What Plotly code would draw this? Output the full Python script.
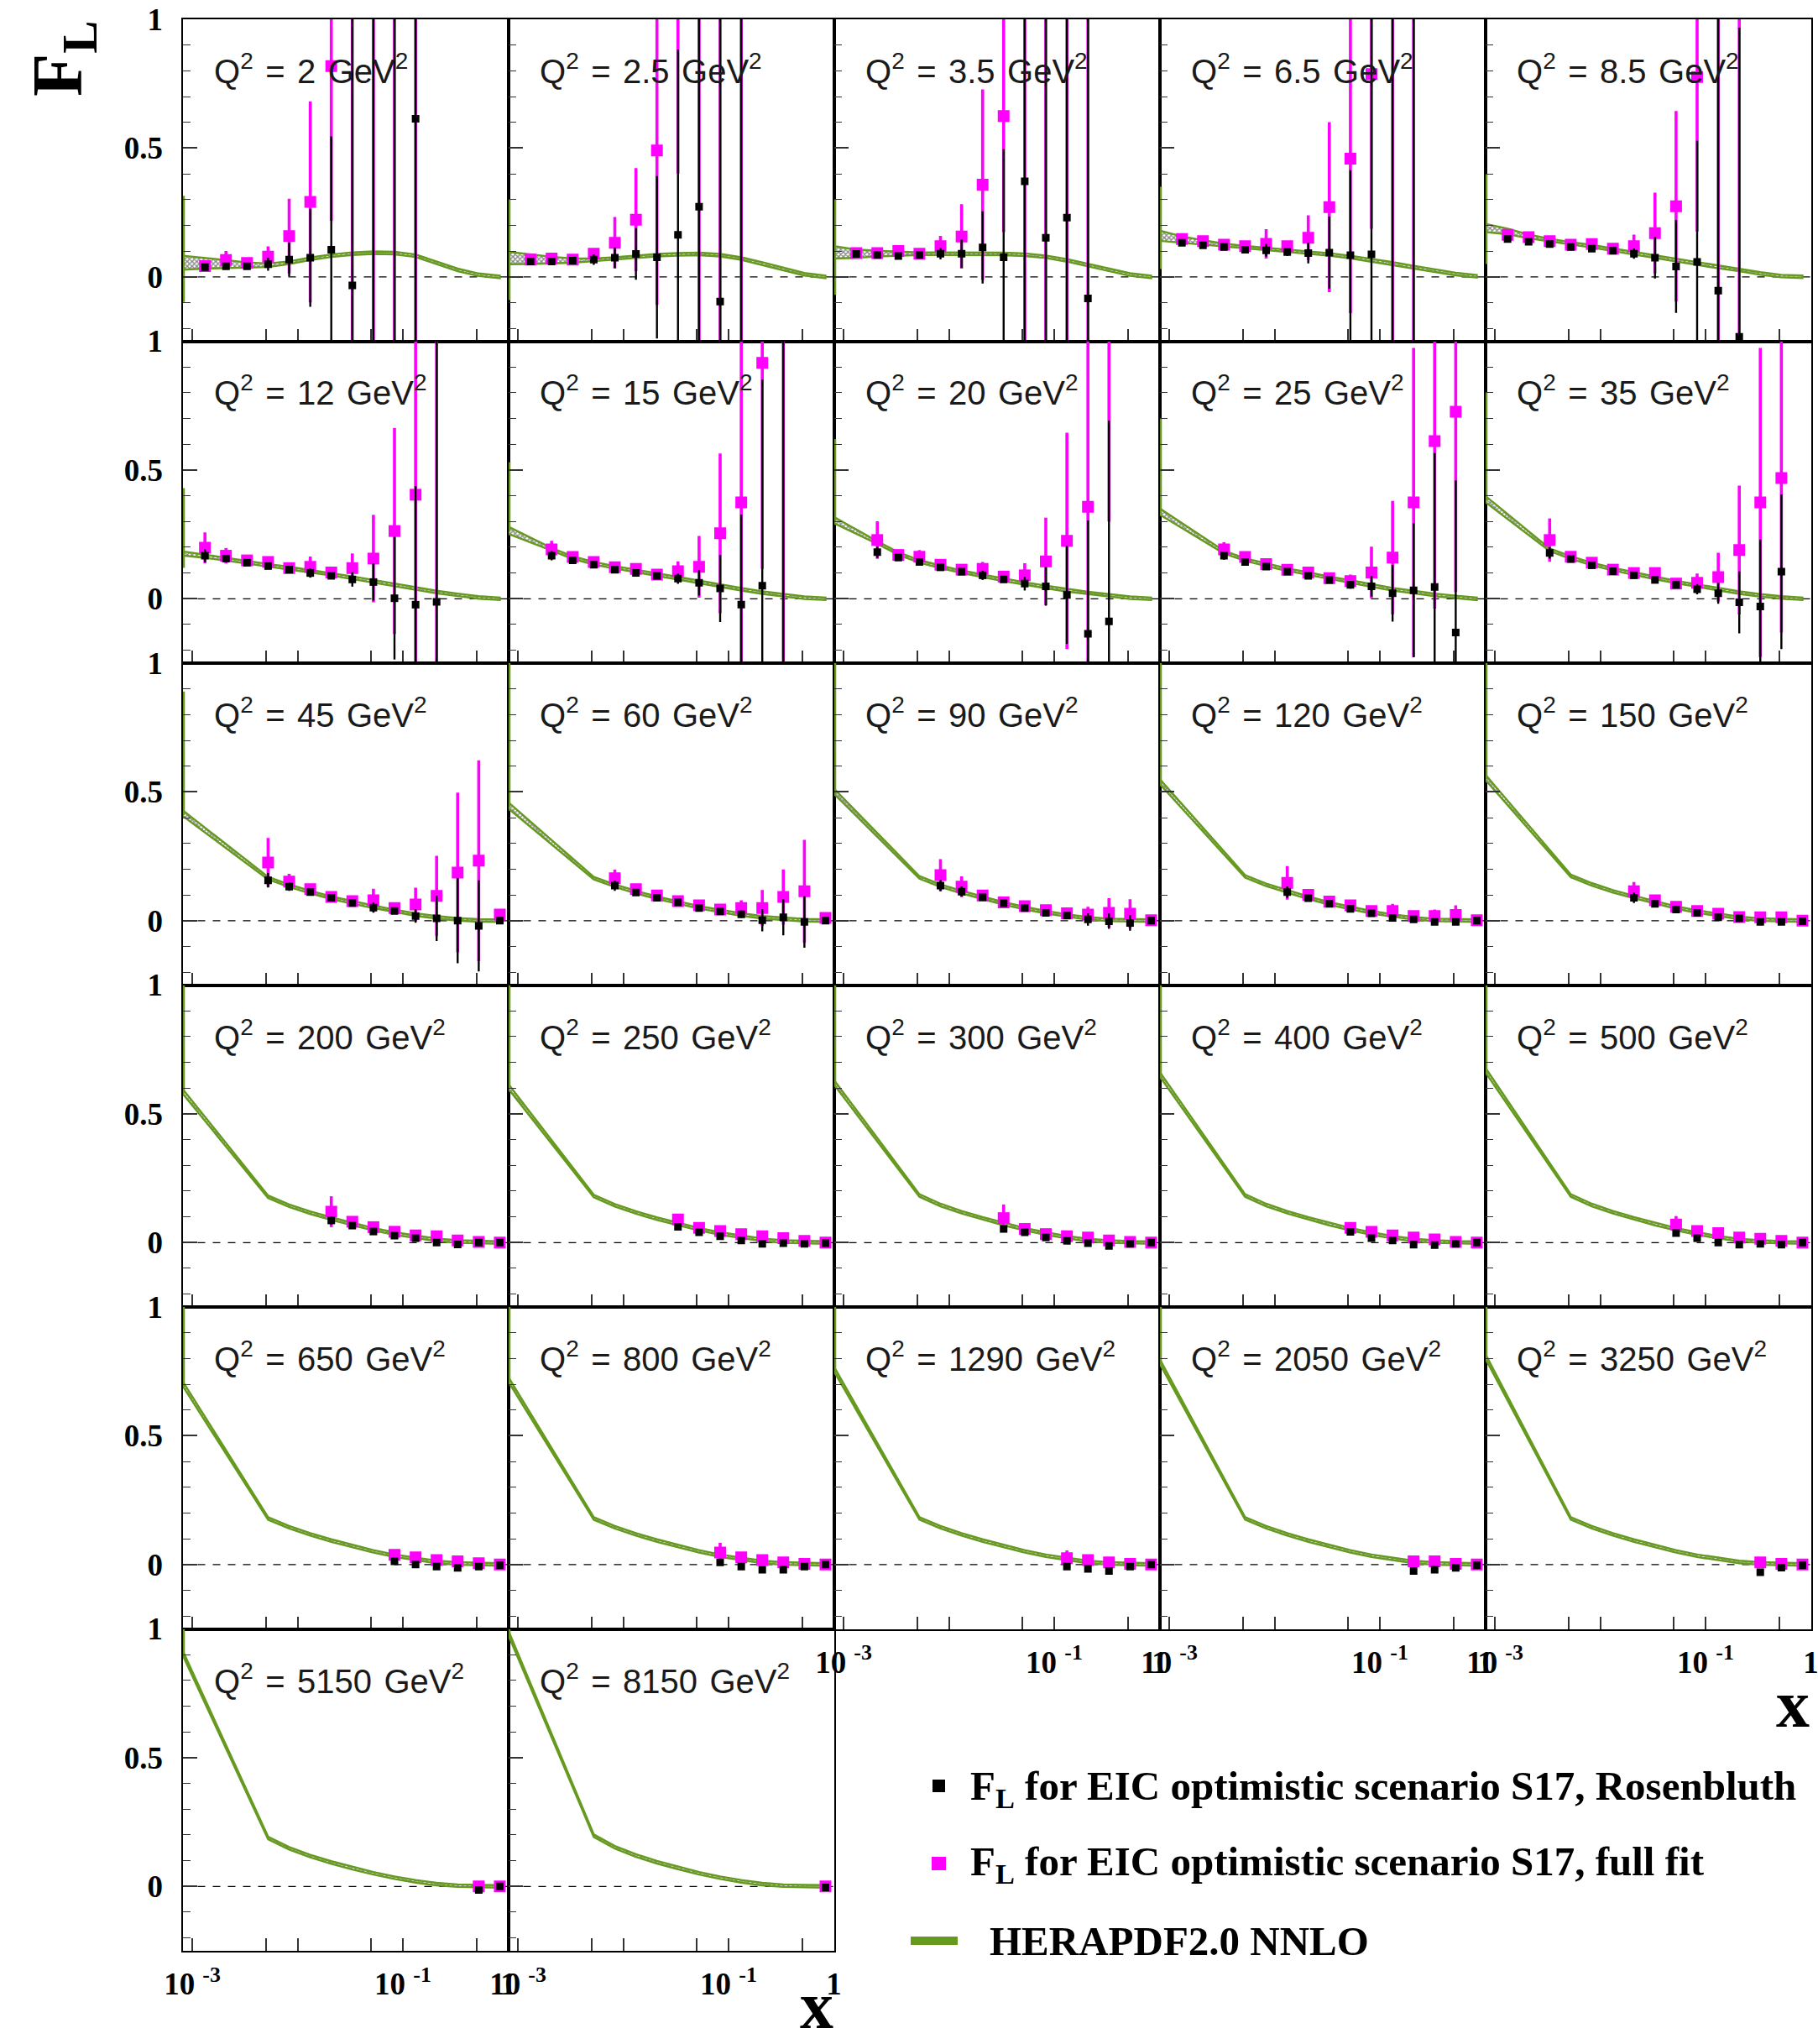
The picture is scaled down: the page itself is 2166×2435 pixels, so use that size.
import plotly.graph_objects as go

# ------------------------------------------------------------------ data
q2_labels = ["2", "2.5", "3.5", "6.5", "8.5", "12", "15", "20", "25", "35",
             "45", "60", "90", "120", "150", "200", "250", "300", "400", "500",
             "650", "800", "1290", "2050", "3250", "5150", "8150"]

# x bins (common grid)
x_grid = [0.00132, 0.00209, 0.00331, 0.00525, 0.00832, 0.0132, 0.0209, 0.0331,
          0.0525, 0.0832, 0.132, 0.209, 0.331, 0.525, 0.832]

# index of first x bin that carries a point, per panel
first_bin = [0, 0, 0, 0, 0, 0, 1, 1, 2, 2, 3, 4, 4, 5, 6, 6, 7, 7, 8, 8, 9, 9, 10, 11, 12, 13, 14]

# F_L, Rosenbluth separation (black)
rosen_fl = [
    [0.038, 0.041, 0.041, 0.049, 0.067, 0.074, 0.105, -0.033, 1.4, -0.6, 0.614],
    [0.060, 0.060, 0.063, 0.067, 0.074, 0.089, 0.076, 0.163, 0.272, -0.096, -0.5],
    [0.089, 0.085, 0.081, 0.085, 0.090, 0.090, 0.114, 0.076, 0.371, 0.152, 0.230, -0.084],
    [0.132, 0.122, 0.116, 0.105, 0.103, 0.096, 0.092, 0.094, 0.084, 0.087, 1.4, -0.5],
    [0.147, 0.136, 0.127, 0.116, 0.109, 0.101, 0.090, 0.074, 0.040, 0.058, -0.054, -0.233],
    [0.167, 0.156, 0.140, 0.127, 0.113, 0.100, 0.089, 0.075, 0.065, 0.002, -0.023, -0.012],
    [0.167, 0.149, 0.132, 0.113, 0.100, 0.089, 0.078, 0.062, 0.040, -0.023, 0.051, 1.4],
    [0.181, 0.160, 0.143, 0.122, 0.105, 0.091, 0.075, 0.059, 0.048, 0.015, -0.136, -0.088],
    [0.167, 0.143, 0.125, 0.105, 0.089, 0.073, 0.054, 0.048, 0.021, 0.033, 0.046, -0.131],
    [0.178, 0.154, 0.130, 0.107, 0.091, 0.073, 0.054, 0.037, 0.021, -0.014, -0.030, 0.105],
    [0.157, 0.132, 0.111, 0.089, 0.069, 0.051, 0.038, 0.018, 0.009, 0.000, -0.020, 0.000],
    [0.136, 0.109, 0.089, 0.071, 0.049, 0.036, 0.025, 0.002, 0.013, -0.005, 0.000],
    [0.136, 0.113, 0.091, 0.068, 0.049, 0.030, 0.020, 0.005, -0.002, -0.009, 0.000],
    [0.111, 0.087, 0.065, 0.046, 0.029, 0.011, 0.005, -0.005, -0.005, 0.000],
    [0.089, 0.065, 0.043, 0.030, 0.013, 0.009, -0.005, -0.005, -0.002],
    [0.086, 0.066, 0.043, 0.027, 0.017, 0.000, -0.007, 0.000, 0.000],
    [0.061, 0.040, 0.025, 0.008, -0.005, -0.002, -0.005, -0.002],
    [0.053, 0.040, 0.020, 0.007, -0.002, -0.013, -0.005, 0.000],
    [0.042, 0.017, 0.008, -0.008, -0.010, -0.005, 0.000],
    [0.037, 0.017, 0.000, -0.008, -0.005, -0.008, 0.000],
    [0.012, 0.000, -0.008, -0.013, -0.008, -0.003],
    [0.008, -0.008, -0.020, -0.020, -0.008, 0.000],
    [-0.008, -0.017, -0.025, -0.008, 0.000],
    [-0.025, -0.020, -0.013, -0.003],
    [-0.030, -0.012, -0.003],
    [-0.014, 0.000],
    [-0.004],
]
rosen_err = [
    [0.012, 0.012, 0.012, 0.025, 0.065, 0.19, 0.44, 1.3, 2.0, 2.0, 1.3],
    [0.01, 0.01, 0.01, 0.02, 0.04, 0.10, 0.315, 0.72, 1.2, 1.2, 2.0],
    [0.012, 0.012, 0.012, 0.012, 0.022, 0.055, 0.14, 0.42, 1.0, 1.2, 1.2, 1.2],
    [0.01, 0.01, 0.01, 0.01, 0.025, 0.015, 0.04, 0.14, 0.33, 1.2, 2.0, 2.0],
    [0.012, 0.012, 0.012, 0.012, 0.012, 0.012, 0.02, 0.08, 0.18, 0.47, 1.2, 1.2],
    [0.025, 0.012, 0.01, 0.01, 0.01, 0.018, 0.01, 0.028, 0.072, 0.238, 0.46, 1.2],
    [0.018, 0.012, 0.01, 0.01, 0.01, 0.01, 0.02, 0.05, 0.13, 0.35, 0.80, 2.0],
    [0.022, 0.012, 0.01, 0.01, 0.01, 0.018, 0.01, 0.027, 0.075, 0.19, 0.44, 0.78],
    [0.015, 0.01, 0.01, 0.01, 0.01, 0.01, 0.015, 0.04, 0.11, 0.26, 0.52, 0.59],
    [0.022, 0.01, 0.01, 0.01, 0.01, 0.012, 0.01, 0.02, 0.04, 0.12, 0.26, 0.30],
    [0.028, 0.016, 0.01, 0.01, 0.01, 0.02, 0.01, 0.026, 0.088, 0.165, 0.177, 0.012],
    [0.02, 0.01, 0.01, 0.01, 0.01, 0.01, 0.014, 0.043, 0.07, 0.10, 0.01],
    [0.022, 0.02, 0.01, 0.01, 0.01, 0.01, 0.01, 0.024, 0.03, 0.03, 0.01],
    [0.022, 0.01, 0.01, 0.01, 0.01, 0.012, 0.012, 0.012, 0.012, 0.01],
    [0.02, 0.012, 0.01, 0.01, 0.01, 0.01, 0.01, 0.01, 0.01],
    [0.015, 0.012, 0.01, 0.01, 0.01, 0.012, 0.012, 0.01, 0.01],
    [0.012, 0.01, 0.01, 0.01, 0.012, 0.01, 0.01, 0.01],
    [0.012, 0.01, 0.01, 0.01, 0.012, 0.012, 0.01, 0.01],
    [0.012, 0.01, 0.01, 0.01, 0.01, 0.01, 0.01],
    [0.012, 0.01, 0.01, 0.01, 0.01, 0.01, 0.01],
    [0.01, 0.01, 0.01, 0.01, 0.01, 0.01],
    [0.01, 0.01, 0.012, 0.012, 0.01, 0.01],
    [0.01, 0.01, 0.012, 0.01, 0.01],
    [0.012, 0.012, 0.01, 0.01],
    [0.012, 0.01, 0.01],
    [0.012, 0.01],
    [0.01],
]

# F_L, full fit (magenta)
full_fl = [
    [0.042, 0.065, 0.054, 0.078, 0.158, 0.291, 0.818, 1.5, 1.5, 1.5, 1.5],
    [0.067, 0.071, 0.067, 0.090, 0.132, 0.222, 0.491, 1.3, 1.5, 1.5, 1.5],
    [0.092, 0.092, 0.100, 0.090, 0.119, 0.157, 0.358, 0.624, 1.5, 1.5, 1.5, 1.5],
    [0.147, 0.139, 0.125, 0.119, 0.128, 0.119, 0.152, 0.271, 0.459, 0.787, 1.5, 1.5],
    [0.163, 0.154, 0.139, 0.125, 0.127, 0.109, 0.119, 0.170, 0.274, 0.776, 1.5, 1.5],
    [0.198, 0.167, 0.149, 0.143, 0.119, 0.124, 0.102, 0.119, 0.156, 0.263, 0.404, 1.5],
    [0.192, 0.162, 0.143, 0.122, 0.116, 0.094, 0.107, 0.124, 0.254, 0.374, 0.916, 1.5],
    [0.228, 0.170, 0.163, 0.132, 0.113, 0.116, 0.086, 0.091, 0.145, 0.225, 0.357, 1.2],
    [0.192, 0.162, 0.135, 0.113, 0.102, 0.080, 0.069, 0.102, 0.160, 0.374, 0.612, 0.726],
    [0.228, 0.163, 0.140, 0.113, 0.100, 0.100, 0.059, 0.062, 0.084, 0.189, 0.374, 0.469],
    [0.226, 0.152, 0.122, 0.092, 0.076, 0.079, 0.049, 0.063, 0.096, 0.187, 0.233, 0.024],
    [0.165, 0.122, 0.098, 0.076, 0.060, 0.043, 0.049, 0.049, 0.092, 0.114, 0.011],
    [0.177, 0.132, 0.098, 0.071, 0.056, 0.041, 0.029, 0.024, 0.030, 0.027, 0.002],
    [0.147, 0.100, 0.074, 0.060, 0.038, 0.038, 0.018, 0.018, 0.022, 0.002],
    [0.114, 0.079, 0.054, 0.038, 0.027, 0.014, 0.013, 0.013, 0.000],
    [0.120, 0.081, 0.060, 0.042, 0.028, 0.025, 0.008, 0.003, 0.000],
    [0.090, 0.057, 0.045, 0.033, 0.025, 0.017, 0.007, 0.000],
    [0.095, 0.053, 0.033, 0.025, 0.020, 0.008, 0.003, 0.000],
    [0.057, 0.042, 0.028, 0.020, 0.012, 0.003, 0.000],
    [0.070, 0.045, 0.037, 0.020, 0.015, 0.007, 0.000],
    [0.038, 0.028, 0.017, 0.012, 0.005, 0.000],
    [0.047, 0.028, 0.017, 0.008, 0.003, 0.000],
    [0.025, 0.017, 0.008, 0.003, 0.000],
    [0.012, 0.012, 0.003, 0.000],
    [0.008, 0.003, 0.000],
    [0.000, 0.000],
    [0.000],
]
full_err = [
    [0.015, 0.035, 0.02, 0.04, 0.145, 0.39, 0.6, 2.0, 2.0, 2.0, 2.0],
    [0.012, 0.015, 0.012, 0.02, 0.10, 0.20, 0.6, 0.9, 2.0, 2.0, 2.0],
    [0.015, 0.015, 0.02, 0.015, 0.04, 0.125, 0.37, 0.45, 2.0, 2.0, 2.0, 2.0],
    [0.015, 0.015, 0.015, 0.015, 0.057, 0.02, 0.087, 0.33, 0.6, 0.6, 2.0, 2.0],
    [0.02, 0.015, 0.015, 0.015, 0.015, 0.015, 0.045, 0.157, 0.37, 0.6, 2.0, 2.0],
    [0.06, 0.03, 0.015, 0.015, 0.012, 0.04, 0.012, 0.057, 0.17, 0.40, 0.65, 2.0],
    [0.033, 0.015, 0.012, 0.012, 0.012, 0.01, 0.038, 0.12, 0.31, 0.65, 0.8, 2.0],
    [0.073, 0.015, 0.026, 0.015, 0.012, 0.027, 0.01, 0.047, 0.17, 0.42, 0.7, 0.9],
    [0.027, 0.015, 0.012, 0.01, 0.01, 0.01, 0.025, 0.1, 0.22, 0.6, 0.65, 0.7],
    [0.084, 0.015, 0.01, 0.012, 0.012, 0.016, 0.01, 0.036, 0.095, 0.25, 0.6, 0.6],
    [0.095, 0.03, 0.015, 0.012, 0.012, 0.045, 0.01, 0.065, 0.156, 0.31, 0.39, 0.02],
    [0.033, 0.012, 0.012, 0.012, 0.012, 0.012, 0.03, 0.07, 0.107, 0.2, 0.012],
    [0.062, 0.04, 0.012, 0.012, 0.012, 0.012, 0.012, 0.03, 0.057, 0.056, 0.015],
    [0.065, 0.012, 0.012, 0.012, 0.012, 0.027, 0.012, 0.025, 0.038, 0.015],
    [0.036, 0.015, 0.012, 0.012, 0.012, 0.012, 0.012, 0.012, 0.015],
    [0.06, 0.012, 0.012, 0.012, 0.012, 0.02, 0.012, 0.012, 0.015],
    [0.02, 0.012, 0.012, 0.012, 0.012, 0.012, 0.012, 0.015],
    [0.053, 0.012, 0.012, 0.012, 0.012, 0.012, 0.012, 0.015],
    [0.02, 0.012, 0.012, 0.012, 0.012, 0.012, 0.015],
    [0.033, 0.012, 0.012, 0.012, 0.012, 0.012, 0.015],
    [0.015, 0.012, 0.012, 0.012, 0.012, 0.015],
    [0.037, 0.012, 0.012, 0.012, 0.012, 0.015],
    [0.03, 0.012, 0.012, 0.012, 0.015],
    [0.02, 0.012, 0.012, 0.015],
    [0.015, 0.012, 0.015],
    [0.015, 0.015],
    [0.015],
]

# HERAPDF2.0 NNLO prediction: value at the left edge of the x range, then on the x grid
hera_edge = [0.055, 0.073, 0.095, 0.160, 0.190, 0.176, 0.266, 0.306, 0.339, 0.388,
             0.418, 0.448, 0.503, 0.541, 0.558, 0.588, 0.607, 0.623, 0.655, 0.671,
             0.703, 0.720, 0.760, 0.790, 0.810, 0.908, 0.986]
hera_fl = [
    [0.053, 0.050, 0.046, 0.045, 0.055, 0.070, 0.082, 0.090, 0.094, 0.092, 0.082, 0.055, 0.027, 0.008, 0.0],
    [0.068, 0.065, 0.063, 0.066, 0.071, 0.078, 0.084, 0.087, 0.089, 0.084, 0.071, 0.052, 0.030, 0.010, 0.0],
    [0.090, 0.090, 0.090, 0.090, 0.090, 0.090, 0.090, 0.089, 0.086, 0.078, 0.064, 0.046, 0.027, 0.009, 0.0],
    [0.145, 0.134, 0.124, 0.115, 0.108, 0.101, 0.094, 0.087, 0.077, 0.065, 0.052, 0.038, 0.024, 0.011, 0.002],
    [0.176, 0.157, 0.143, 0.130, 0.119, 0.105, 0.092, 0.078, 0.065, 0.051, 0.038, 0.027, 0.013, 0.003, 0.0],
    [0.165, 0.153, 0.141, 0.130, 0.119, 0.107, 0.095, 0.082, 0.068, 0.054, 0.040, 0.026, 0.015, 0.005, 0.0],
    [None, 0.192, 0.160, 0.138, 0.122, 0.109, 0.094, 0.080, 0.065, 0.051, 0.037, 0.024, 0.013, 0.004, 0.0],
    [None, 0.218, 0.176, 0.145, 0.124, 0.105, 0.089, 0.073, 0.059, 0.046, 0.033, 0.022, 0.013, 0.004, 0.0],
    [None, None, 0.181, 0.152, 0.132, 0.113, 0.098, 0.081, 0.067, 0.051, 0.037, 0.026, 0.015, 0.007, 0.0],
    [None, None, 0.190, 0.160, 0.135, 0.115, 0.098, 0.081, 0.065, 0.051, 0.037, 0.024, 0.013, 0.005, 0.0],
    [None, None, None, 0.165, 0.136, 0.111, 0.089, 0.071, 0.054, 0.038, 0.024, 0.013, 0.005, 0.001, 0.0],
    [None, None, None, 0.165, 0.136, 0.111, 0.089, 0.071, 0.052, 0.038, 0.024, 0.013, 0.007, 0.002, 0.0],
    [None, None, None, 0.168, 0.136, 0.111, 0.089, 0.067, 0.049, 0.033, 0.020, 0.009, 0.003, 0.001, 0.0],
    [None, None, None, 0.172, 0.139, 0.113, 0.089, 0.067, 0.049, 0.033, 0.020, 0.009, 0.003, 0.001, 0.0],
    [None, None, None, 0.174, 0.141, 0.114, 0.092, 0.071, 0.051, 0.035, 0.022, 0.011, 0.004, 0.001, 0.0],
    [None, None, None, 0.178, 0.143, 0.116, 0.093, 0.072, 0.052, 0.035, 0.022, 0.011, 0.004, 0.001, 0.0],
    [None, None, None, 0.181, 0.145, 0.117, 0.093, 0.072, 0.052, 0.035, 0.022, 0.011, 0.004, 0.001, 0.0],
    [None, None, None, 0.183, 0.146, 0.118, 0.094, 0.072, 0.052, 0.035, 0.021, 0.010, 0.004, 0.001, 0.0],
    [None, None, None, 0.183, 0.146, 0.118, 0.094, 0.072, 0.052, 0.035, 0.021, 0.010, 0.004, 0.001, 0.0],
    [None, None, None, 0.183, 0.146, 0.118, 0.094, 0.072, 0.052, 0.035, 0.021, 0.010, 0.004, 0.001, 0.0],
    [None, None, None, 0.179, 0.145, 0.117, 0.093, 0.071, 0.051, 0.034, 0.021, 0.010, 0.004, 0.001, 0.0],
    [None, None, None, 0.179, 0.145, 0.117, 0.093, 0.071, 0.051, 0.034, 0.021, 0.010, 0.004, 0.001, 0.0],
    [None, None, None, 0.179, 0.145, 0.117, 0.093, 0.071, 0.051, 0.034, 0.021, 0.010, 0.004, 0.001, 0.0],
    [None, None, None, 0.179, 0.145, 0.117, 0.093, 0.071, 0.051, 0.034, 0.021, 0.010, 0.004, 0.001, 0.0],
    [None, None, None, 0.179, 0.145, 0.117, 0.093, 0.071, 0.051, 0.034, 0.021, 0.010, 0.004, 0.001, 0.0],
    [None, None, None, 0.188, 0.148, 0.118, 0.093, 0.071, 0.051, 0.034, 0.020, 0.009, 0.003, 0.001, 0.0],
    [None, None, None, 0.197, 0.152, 0.120, 0.094, 0.072, 0.051, 0.034, 0.020, 0.009, 0.003, 0.001, 0.0],
]
# half-width of the uncertainty band on the first nodes (left edge first); further nodes use hera_hw_rest
hera_hw = [
    [0.027, 0.021, 0.015, 0.010, 0.007], [0.024, 0.018, 0.013, 0.008], [0.024, 0.016, 0.011, 0.007],
    [0.020, 0.012, 0.008], [0.016, 0.011, 0.007], [0.008, 0.006], [0.014], [0.012], [0.012], [0.012],
    [0.011], [0.012], [0.010], [0.010], [0.010], [0.009], [0.009], [0.009], [0.009], [0.009],
    [0.009], [0.009], [0.009], [0.009], [0.009], [0.009], [0.009],
]
hera_hw_rest = 0.005
# extent of the band where it leaves the plotted range at low x
hera_out_lo = [-0.098, -0.09, -0.07, 0.03, 0.05, 0.12, 0.26, 0.30, 0.33, 0.38, 0.41, 0.44, 0.49,
               0.53, 0.55, 0.58, 0.60, 0.61, 0.645, 0.66, 0.69, 0.71, 0.75, 0.78, 0.80, 0.90, 0.975]
hera_out_hi = [0.315, 0.30, 0.30, 0.35, 0.40, 0.43, 0.53, 0.62, 0.70, 0.80, 0.89, 1.05, 1.05,
               1.05, 1.05, 1.05, 1.05, 1.05, 1.05, 1.05, 1.05, 1.05, 1.05, 1.05, 1.05, 1.05, 1.05]

y_tick_vals = [0, 0.5, 1]
y_tick_text = ["0", "0.5", "1"]
x_tick_vals = [0.001, 0.005, 0.01, 0.05, 0.1, 0.5, 1]
x_tick_text = ["10 <sup>-3</sup>", "", "", "", "10 <sup>-1</sup>", "", "1"]

legend_labels = ["F<sub>L</sub> for EIC optimistic scenario S17, Rosenbluth",
                 "F<sub>L</sub> for EIC optimistic scenario S17, full fit",
                 "HERAPDF2.0 NNLO"]

# ------------------------------------------------------------------ layout constants
W, H = 2166, 2435
NCOL = 5
PW, PH = 388.0, 383.5
X0PX, Y0PX = 217.5, 23.0
LOGX_RANGE = [-3.092, 0.0]
Y_RANGE = [-0.25, 1.0]
GREEN = "#669a1e"
MAGENTA = "#ff00ff"
SERIF = "Liberation Serif"
SANS = "Liberation Sans"
SP2 = " \u200a"

fig = go.Figure()
shapes, annotations, axes = [], [], {}
n_panels = len(q2_labels)
label_x_panels = {22, 23, 24, 25, 26}

for i in range(n_panels):
    r, c = divmod(i, NCOL)
    sfx = "" if i == 0 else str(i + 1)
    xr, yr = "x" + sfx, "y" + sfx
    left = X0PX + c * PW
    top = Y0PX + r * PH
    xdom = [left / W, (left + PW) / W]
    ydom = [1 - (top + PH) / H, 1 - top / H]

    # HERAPDF band
    xs = [10 ** LOGX_RANGE[0]]
    cs = [hera_edge[i]]
    for k, v in enumerate(hera_fl[i]):
        if v is not None:
            xs.append(x_grid[k])
            cs.append(v)
    hw = [hera_hw[i][j] if j < len(hera_hw[i]) else hera_hw_rest for j in range(len(xs))]
    up = [a + b for a, b in zip(cs, hw)]
    lo = [a - b for a, b in zip(cs, hw)]
    fig.add_trace(go.Scatter(
        x=xs + xs[::-1], y=up + lo[::-1], mode="lines", fill="toself",
        fillpattern=dict(shape="x", fgcolor="#111111", bgcolor="white", size=4, solidity=0.6),
        line=dict(color=GREEN, width=2.4), xaxis=xr, yaxis=yr, hoverinfo="skip"))
    edge_x = 10 ** (LOGX_RANGE[0] + 0.012)
    fig.add_trace(go.Scatter(
        x=[edge_x, edge_x], y=[hera_out_lo[i], hera_out_hi[i]], mode="lines",
        line=dict(color=GREEN, width=2.5), xaxis=xr, yaxis=yr, hoverinfo="skip"))

    xk = x_grid[first_bin[i]:first_bin[i] + len(rosen_fl[i])]
    fig.add_trace(go.Scatter(
        x=xk, y=full_fl[i], mode="markers",
        marker=dict(symbol="square", size=14, color=MAGENTA, line=dict(width=0)),
        error_y=dict(type="data", array=full_err[i], visible=True, color=MAGENTA, thickness=3.6, width=0),
        xaxis=xr, yaxis=yr))
    fig.add_trace(go.Scatter(
        x=xk, y=rosen_fl[i], mode="markers",
        marker=dict(symbol="square", size=9, color="black", line=dict(width=0)),
        error_y=dict(type="data", array=rosen_err[i], visible=True, color="black", thickness=2.4, width=0),
        xaxis=xr, yaxis=yr))

    show_x = i in label_x_panels
    axes["xaxis" + sfx] = dict(
        type="log", range=LOGX_RANGE, domain=xdom, anchor=yr, automargin=False,
        showline=True, mirror=True, linecolor="black", linewidth=2,
        ticks="inside", ticklen=15, tickwidth=1.5, tickcolor="#333333",
        tickmode="array", tickvals=x_tick_vals, ticktext=x_tick_text,
        showticklabels=show_x, ticklabelstandoff=6, ticklabeloverflow="allow",
        tickfont=dict(family=SERIF, size=37, color="black", weight="bold"),
        showgrid=False, zeroline=False)
    axes["yaxis" + sfx] = dict(
        range=Y_RANGE, domain=ydom, anchor=xr, automargin=False,
        showline=True, mirror=True, linecolor="black", linewidth=2,
        ticks="inside", ticklen=17, tickwidth=1.5, tickcolor="#333333",
        tickmode="array", tickvals=y_tick_vals, ticktext=y_tick_text,
        showticklabels=(c == 0), ticklabelstandoff=14,
        tickfont=dict(family=SERIF, size=37, color="black", weight="bold"),
        minor=dict(ticks="inside", ticklen=9, tickwidth=1.2, tickcolor="#333333",
                   tickmode="linear", tick0=0, dtick=0.1),
        showgrid=False, zeroline=False)

    shapes.append(dict(type="line", xref=xr + " domain", yref=yr, x0=0, x1=1, y0=0, y1=0,
                       line=dict(color="black", width=1.3, dash="dash"), layer="below"))
    annotations.append(dict(
        xref=xr + " domain", yref=yr + " domain", x=35 / PW, y=1 - 59 / PH,
        xanchor="left", yanchor="middle", showarrow=False,
        text="Q<sup>2</sup>" + SP2 + "=" + SP2 + q2_labels[i] + SP2 + "GeV<sup>2</sup>",
        font=dict(family=SANS, size=40, color="#1a1a1a")))

# axis titles
annotations.append(dict(xref="paper", yref="paper", x=75 / W, y=1 - 70 / H, showarrow=False,
                        xanchor="center", yanchor="middle", textangle=-90, text="F<sub>L</sub>",
                        font=dict(family=SERIF, size=84, color="black", weight="bold")))
annotations.append(dict(xref="paper", yref="paper", x=2158 / W, y=1 - 2030 / H, showarrow=False,
                        xanchor="right", yanchor="middle", text="x",
                        font=dict(family=SERIF, size=80, color="black", weight="bold")))
annotations.append(dict(xref="paper", yref="paper", x=995 / W, y=0, showarrow=False,
                        xanchor="right", yanchor="bottom", text="x",
                        font=dict(family=SERIF, size=80, color="black", weight="bold")))

# legend
leg_y = [2130, 2220, 2312]
leg_text_x = [1154, 1154, 1177]
for j, lab in enumerate(legend_labels):
    annotations.append(dict(xref="paper", yref="paper", x=leg_text_x[j] / W, y=1 - leg_y[j] / H,
                            showarrow=False, xanchor="left", yanchor="middle", text=lab,
                            font=dict(family=SERIF, size=49, color="black", weight="bold")))
shapes.append(dict(type="rect", xref="paper", yref="paper", x0=1111 / W, x1=1126 / W,
                   y0=1 - 2135 / H, y1=1 - 2120 / H, fillcolor="black", line=dict(width=0)))
shapes.append(dict(type="rect", xref="paper", yref="paper", x0=1110 / W, x1=1127 / W,
                   y0=1 - 2228 / H, y1=1 - 2212 / H, fillcolor=MAGENTA, line=dict(width=0)))
shapes.append(dict(type="line", xref="paper", yref="paper", x0=1085 / W, x1=1141 / W,
                   y0=1 - 2312 / H, y1=1 - 2312 / H, line=dict(color=GREEN, width=10)))

fig.update_layout(width=W, height=H, margin=dict(l=0, r=0, t=0, b=0, autoexpand=False),
                  paper_bgcolor="white", plot_bgcolor="white", showlegend=False,
                  shapes=shapes, annotations=annotations, **axes)

fig.write_html("out.html")
